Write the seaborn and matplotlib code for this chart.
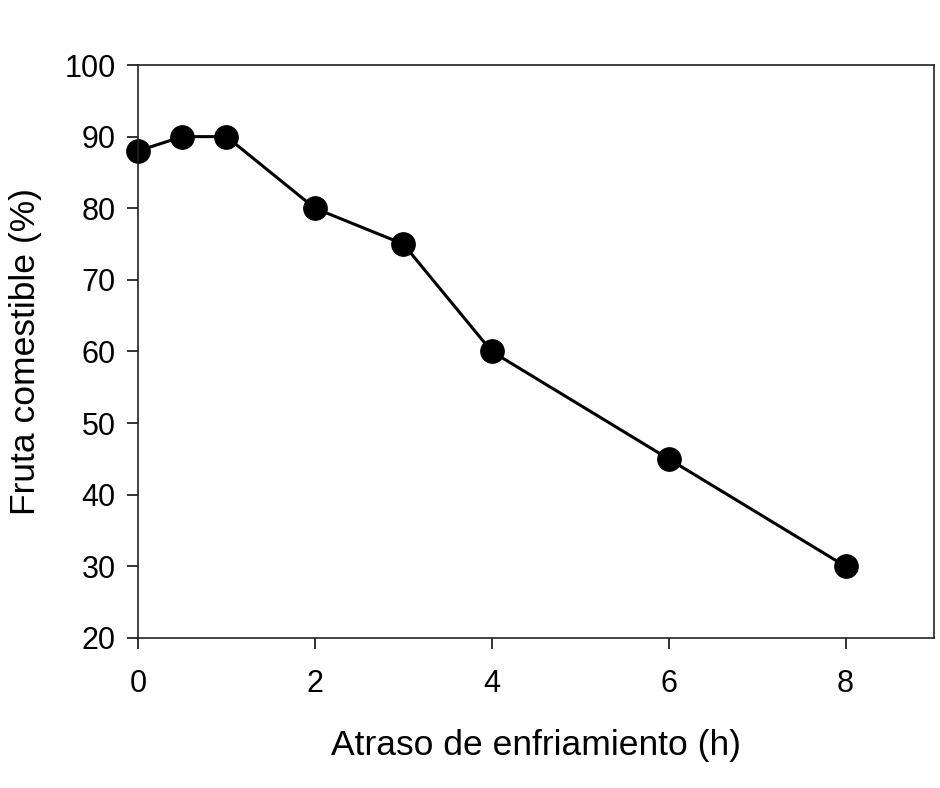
import matplotlib
matplotlib.use('Agg')
import matplotlib.pyplot as plt
import seaborn as sns
import pandas as pd

# Datos
atraso_h = [0, 0.5, 1, 2, 3, 4, 6, 8]
fruta_comestible = [88, 90, 90, 80, 75, 60, 45, 30]
x_ticks = [0, 2, 4, 6, 8]
y_ticks = [20, 30, 40, 50, 60, 70, 80, 90, 100]

df = pd.DataFrame({'atraso': atraso_h, 'fruta': fruta_comestible})

sns.set_theme(style='ticks')
plt.rcParams['font.family'] = ['Liberation Sans', 'DejaVu Sans']

fig = plt.figure(figsize=(9.4, 7.88), dpi=100)
ax = fig.add_axes([0.1468, 0.1904, 0.8468, 0.7271])

sns.lineplot(data=df, x='atraso', y='fruta', ax=ax, color='black', linewidth=2.2,
             marker='o', markersize=17, markerfacecolor='black', markeredgecolor='black',
             clip_on=False)

ax.set_xlim(0, 9)
ax.set_ylim(20, 100)
ax.set_xticks(x_ticks)
ax.set_yticks(y_ticks)
ax.tick_params(axis='both', direction='out', length=8, width=1.2, labelsize=22,
               colors='#111111', labelcolor='black')
ax.tick_params(axis='x', pad=14)
ax.tick_params(axis='y', pad=8)
for s in ax.spines.values():
    s.set_linewidth(1.2)
    s.set_color('#222222')
    s.set_visible(True)

ax.set_xlabel('Atraso de enfriamiento (h)', fontsize=25.5, labelpad=22, color='black')
ax.set_ylabel('Fruta comestible (%)', fontsize=25.5, labelpad=16, color='black')

fig.savefig('out.png', dpi=100)
